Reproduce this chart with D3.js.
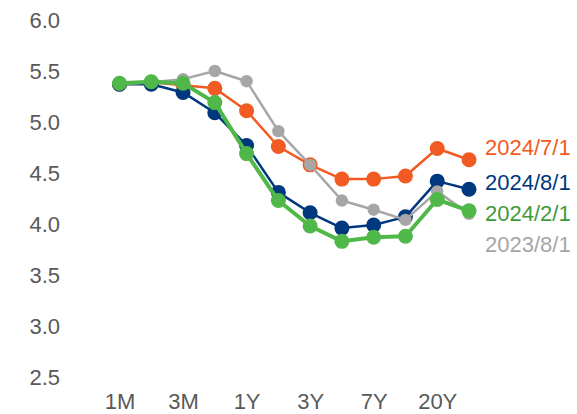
<!DOCTYPE html>
<html>
<head>
<meta charset="utf-8">
<script src="https://cdn.jsdelivr.net/npm/d3@7"></script>
<style>
  html, body { margin: 0; padding: 0; background: #fff; }
  svg { display: block; }
  text { font-family: "Liberation Sans", Arial, sans-serif; }
</style>
</head>
<body>
<svg id="chart" width="577" height="414"></svg>
<script>
const categories = ["1M","2M","3M","6M","1Y","2Y","3Y","5Y","7Y","10Y","20Y","30Y"];
const tickLabels = ["1M","3M","1Y","3Y","7Y","20Y"];
const yTicks = [2.5, 3.0, 3.5, 4.0, 4.5, 5.0, 5.5, 6.0];

const s20240701 = [5.37, 5.39, 5.36, 5.33, 5.11, 4.76, 4.58, 4.44, 4.44, 4.47, 4.74, 4.63];
const s20240801 = [5.37, 5.37, 5.29, 5.09, 4.77, 4.31, 4.11, 3.96, 3.99, 4.07, 4.42, 4.34];
const s20230801 = [5.37, 5.39, 5.42, 5.50, 5.40, 4.91, 4.58, 4.23, 4.14, 4.04, 4.32, 4.10];
const s20240201 = [5.38, 5.395, 5.38, 5.19, 4.69, 4.23, 3.98, 3.83, 3.87, 3.88, 4.24, 4.13];

const seriesNames = ["2024/7/1", "2024/8/1", "2023/8/1", "2024/2/1"];

const svg = d3.select("#chart");
const x = d3.scalePoint().domain(categories).range([119.5, 469]);
const y = d3.scaleLinear().domain([2.5, 6.0]).range([377, 20]);

const styles = {
  "2024/7/1": { color: "#F15A22", text: "#F15A22", lw: 2.5, r: 7.5, labelY: 147 },
  "2024/8/1": { color: "#00387D", text: "#00387D", lw: 2.5, r: 7.5, labelY: 182 },
  "2023/8/1": { color: "#A6A6A6", text: "#A6A6A6", lw: 2.5, r: 6.2, labelY: 244 },
  "2024/2/1": { color: "#50B848", text: "#3E9B3A", lw: 4, r: 7.5, labelY: 213 }
};
const dataMap = {
  "2024/7/1": s20240701,
  "2024/8/1": s20240801,
  "2023/8/1": s20230801,
  "2024/2/1": s20240201
};

const FS = "22px";

// Y axis
const yAxis = d3.axisLeft(y).tickValues(yTicks).tickFormat(d3.format(".1f")).tickSize(0).tickPadding(0);
const gy = svg.append("g").attr("transform", "translate(60,0)").call(yAxis);
gy.select(".domain").remove();
gy.selectAll("text").attr("fill", "#595959").style("font-size", FS)
  .style("font-family", "'Liberation Sans', Arial, sans-serif");

// X axis
const xAxis = d3.axisBottom(x).tickValues(tickLabels).tickSize(0).tickPadding(0);
const gx = svg.append("g").attr("transform", "translate(0,393)").call(xAxis);
gx.select(".domain").remove();
gx.selectAll("text").attr("fill", "#595959").style("font-size", FS)
  .style("font-family", "'Liberation Sans', Arial, sans-serif");

const line = d3.line().x((d, i) => x(categories[i])).y(d => y(d));

seriesNames.forEach(name => {
  const st = styles[name];
  const vals = dataMap[name];
  const g = svg.append("g");
  g.append("path").datum(vals).attr("d", line)
    .attr("fill", "none").attr("stroke", st.color).attr("stroke-width", st.lw)
    .attr("stroke-linejoin", "round");
  g.selectAll("circle").data(vals).join("circle")
    .attr("cx", (d, i) => x(categories[i])).attr("cy", d => y(d))
    .attr("r", st.r).attr("fill", st.color);
});

// Series labels
seriesNames.forEach(name => {
  const st = styles[name];
  svg.append("text").attr("x", 485).attr("y", st.labelY).attr("dy", "0.35em")
    .attr("fill", st.text).style("font-size", FS).text(name);
});
</script>
</body>
</html>
